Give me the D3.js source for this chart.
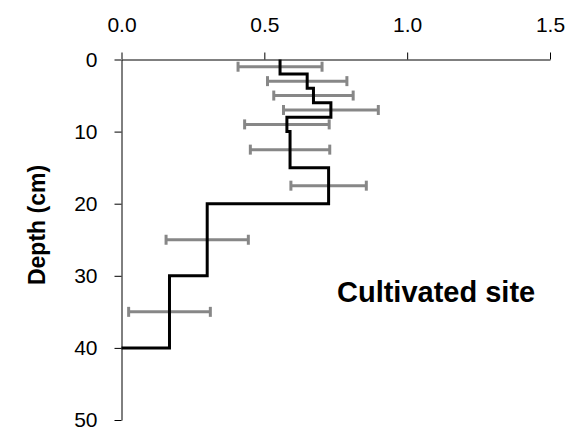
<!DOCTYPE html>
<html>
<head>
<meta charset="utf-8">
<script src="https://cdn.jsdelivr.net/npm/d3@7"></script>
<style>
  body { margin: 0; background: #fff; }
  text { font-family: "Liberation Sans", Arial, sans-serif; }
</style>
</head>
<body>
<div id="chart"></div>
<script>
// Depth layers (cm) and mean values for each layer
const layerTop = [0, 2, 4, 6, 8, 10, 15, 20, 30];
const layerBottom = [2, 4, 6, 8, 10, 15, 20, 30, 40];
const layerValues = [0.555, 0.65, 0.672, 0.733, 0.579, 0.59, 0.725, 0.30, 0.168];
// error bars sit at the middle of each layer
const errorDepths = [1, 3, 5, 7, 9, 12.5, 17.5, 25, 35];
const errorSize = [0.147, 0.139, 0.139, 0.166, 0.148, 0.139, 0.132, 0.144, 0.143];
const xTicks = [0, 0.5, 1.0, 1.5];
const yTicks = [0, 10, 20, 30, 40, 50];

const width = 574;
const height = 430;

const svg = d3.select('#chart')
    .append('svg')
    .attr('width', width)
    .attr('height', height);

const x = d3.scaleLinear().domain([0, 1.5]).range([121.5, 550]);
const y = d3.scaleLinear().domain([0, 50]).range([59.5, 420]);

// top axis
const xAxis = svg.append('g')
    .attr('transform', `translate(0,${y(0)})`)
    .call(d3.axisTop(x).tickValues(xTicks).tickFormat(d3.format('.1f'))
        .tickSize(7).tickSizeOuter(0).tickPadding(21));

// left axis
const yAxis = svg.append('g')
    .attr('transform', `translate(${x(0)},0)`)
    .call(d3.axisLeft(y).tickValues(yTicks).tickSize(7).tickSizeOuter(0).tickPadding(17));

[xAxis, yAxis].forEach(a => {
    a.selectAll('text').attr('font-size', 21).attr('fill', '#000')
        .attr('font-family', '"Liberation Sans", Arial, sans-serif');
    a.selectAll('line, path').attr('stroke', '#000');
});

// error bars
const bars = svg.selectAll('.err')
    .data(errorDepths)
    .enter()
    .append('g')
    .attr('class', 'err')
    .attr('stroke', '#878787')
    .attr('stroke-width', 3);

bars.append('line')
    .attr('x1', (d, i) => x(layerValues[i] - errorSize[i]))
    .attr('x2', (d, i) => x(layerValues[i] + errorSize[i]))
    .attr('y1', d => y(d))
    .attr('y2', d => y(d));

[-1, 1].forEach(sign => {
    bars.append('line')
        .attr('x1', (d, i) => x(layerValues[i] + sign * errorSize[i]))
        .attr('x2', (d, i) => x(layerValues[i] + sign * errorSize[i]))
        .attr('y1', d => y(d) - 5)
        .attr('y2', d => y(d) + 5);
});

// step profile
const points = [];
layerValues.forEach((v, i) => {
    points.push([v, layerTop[i]]);
    points.push([v, layerBottom[i]]);
});
points.push([0, layerBottom[layerBottom.length - 1]]);

svg.append('path')
    .datum(points)
    .attr('fill', 'none')
    .attr('stroke', '#000')
    .attr('stroke-width', 3)
    .attr('d', d3.line().x(d => x(d[0])).y(d => y(d[1])));

// axis title
svg.append('text')
    .attr('transform', 'translate(45,225) rotate(-90)')
    .attr('text-anchor', 'middle')
    .attr('font-size', 23)
    .attr('font-weight', 'bold')
    .text('Depth (cm)');

// site label
svg.append('text')
    .attr('x', 337)
    .attr('y', 301.5)
    .attr('font-size', 29)
    .attr('font-weight', 'bold')
    .text('Cultivated site');
</script>
</body>
</html>
